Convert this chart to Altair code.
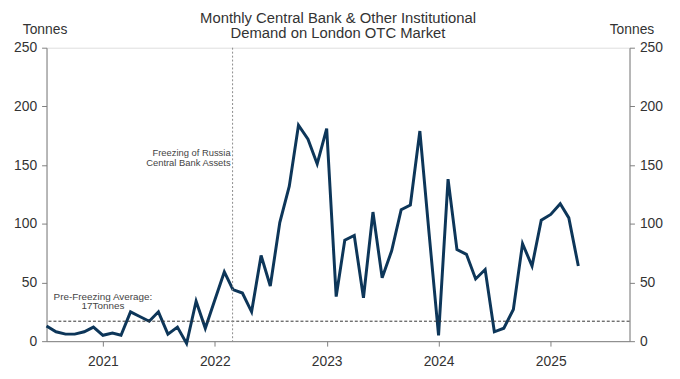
import altair as alt
import pandas as pd

# ---- data ----
months = [
    "2020-07", "2020-08", "2020-09", "2020-10", "2020-11", "2020-12",
    "2021-01", "2021-02", "2021-03", "2021-04", "2021-05", "2021-06",
    "2021-07", "2021-08", "2021-09", "2021-10", "2021-11", "2021-12",
    "2022-01", "2022-02", "2022-03", "2022-04", "2022-05", "2022-06",
    "2022-07", "2022-08", "2022-09", "2022-10", "2022-11", "2022-12",
    "2023-01", "2023-02", "2023-03", "2023-04", "2023-05", "2023-06",
    "2023-07", "2023-08", "2023-09", "2023-10", "2023-11", "2023-12",
    "2024-01", "2024-02", "2024-03", "2024-04", "2024-05", "2024-06",
    "2024-07", "2024-08", "2024-09", "2024-10", "2024-11", "2024-12",
    "2025-01", "2025-02", "2025-03", "2025-04",
]
tonnes = [
    13, 8, 6, 6, 8, 12,
    5, 7, 5, 25, 21, 17,
    25, 6, 12, -2, 34, 11,
    35, 59, 44, 41, 25, 73,
    47, 101, 132, 184, 172, 151,
    181, 38, 86, 90, 37, 110,
    54, 77, 112, 116, 179, 92,
    5, 138, 78, 74, 53, 61,
    8, 11, 27, 83, 64, 103,
    108, 117, 105, 64,
]
year_ticks = [2021, 2022, 2023, 2024, 2025]
pre_freeze_avg = [17]
freeze_date = ["2022-02-28T00:00:00"]
freeze_label = ["Freezing of Russia\nCentral Bank Assets"]
freeze_label_y = [160]
avg_label = ["Pre-Freezing Average:\n17Tonnes"]
avg_label_date = ["2021-01-01T00:00:00"]
avg_label_y = [38]

title_lines = ["Monthly Central Bank & Other Institutional", "Demand on London OTC Market"]

# ---- tables ----
df = pd.DataFrame({"date": [m + "-01T00:00:00" for m in months], "tonnes": tonnes})
avg_df = pd.DataFrame({"v": pre_freeze_avg})
freeze_df = pd.DataFrame({"d": freeze_date, "label": freeze_label, "y": freeze_label_y})
avg_lab_df = pd.DataFrame({"d": avg_label_date, "label": avg_label, "y": avg_label_y})

FONT = "Liberation Sans"
AXIS_GREY = "#7f7f7f"
TEXT = "#333333"
LINE = "#0d3659"

x_scale = alt.Scale(domain=[alt.DateTime(year=2020, month=7, date=1),
                            alt.DateTime(year=2025, month=9, date=15)])
y_scale = alt.Scale(domain=[0, 250], nice=False)

x_axis = alt.Axis(
    format="%Y",
    values=[alt.DateTime(year=y, month=1, date=1) for y in year_ticks],
    title=None, grid=False, tickSize=5, labelPadding=9,
    domainColor=AXIS_GREY, tickColor=AXIS_GREY, labelColor=TEXT,
    labelFont=FONT, labelFontSize=14,
)

left_axis = alt.Axis(
    orient="left", values=[0, 50, 100, 150, 200, 250], grid=False,
    tickSize=5, labelPadding=5, domainColor=AXIS_GREY, tickColor=AXIS_GREY,
    labelColor=TEXT, labelFont=FONT, labelFontSize=14,
    title="Tonnes", titleAngle=0, titleX=-2, titleY=-14, titleAlign="center",
    titleBaseline="alphabetic", titleFont=FONT, titleFontSize=14,
    titleFontWeight="normal", titleColor=TEXT,
)
right_axis = alt.Axis(
    orient="right", values=[0, 50, 100, 150, 200, 250], grid=False,
    tickSize=5, labelPadding=5, domainColor=AXIS_GREY, tickColor=AXIS_GREY,
    labelColor=TEXT, labelFont=FONT, labelFontSize=14,
    title="Tonnes", titleAngle=0, titleX=2, titleY=-14, titleAlign="center",
    titleBaseline="alphabetic", titleFont=FONT, titleFontSize=14,
    titleFontWeight="normal", titleColor=TEXT,
)

line = alt.Chart(df).mark_line(color=LINE, strokeWidth=3, clip=False).encode(
    x=alt.X("date:T", scale=x_scale, axis=x_axis),
    y=alt.Y("tonnes:Q", scale=y_scale, axis=left_axis),
)

avg_rule = alt.Chart(avg_df).mark_rule(color="#333333", strokeDash=[3, 2], strokeWidth=1).encode(
    y=alt.Y("v:Q", scale=y_scale, axis=right_axis),
)

freeze_rule = alt.Chart(freeze_df).mark_rule(color="#8a8a8a", strokeDash=[2, 2], strokeWidth=1).encode(
    x=alt.X("d:T", scale=x_scale),
)

freeze_text = alt.Chart(freeze_df).mark_text(
    align="right", baseline="middle", dx=-2, font=FONT, fontSize=9.5,
    lineHeight=9.5, color="#444444", lineBreak="\n",
).encode(
    x=alt.X("d:T", scale=x_scale),
    y=alt.Y("y:Q", scale=y_scale, axis=None),
    text="label:N",
)

avg_text = alt.Chart(avg_lab_df).mark_text(
    align="center", baseline="middle", font=FONT, fontSize=10,
    lineHeight=10, color="#444444", lineBreak="\n",
).encode(
    x=alt.X("d:T", scale=x_scale),
    y=alt.Y("y:Q", scale=y_scale, axis=None),
    text="label:N",
)

chart = alt.layer(line, avg_rule, freeze_rule, freeze_text, avg_text).resolve_scale(
    y="independent"
).properties(
    width=590, height=297,
    padding={"left": 39, "top": 38, "right": 43, "bottom": 28},
    autosize=alt.AutoSizeParams(type="none"),
    title=alt.Title(title_lines, font=FONT, fontSize=15, fontWeight="normal",
                    color=TEXT, anchor="middle", lineHeight=15, offset=-18),
).configure_view(stroke=None).configure(background="white")

chart.save("out.html", embed_options={"renderer": "svg", "actions": False})
